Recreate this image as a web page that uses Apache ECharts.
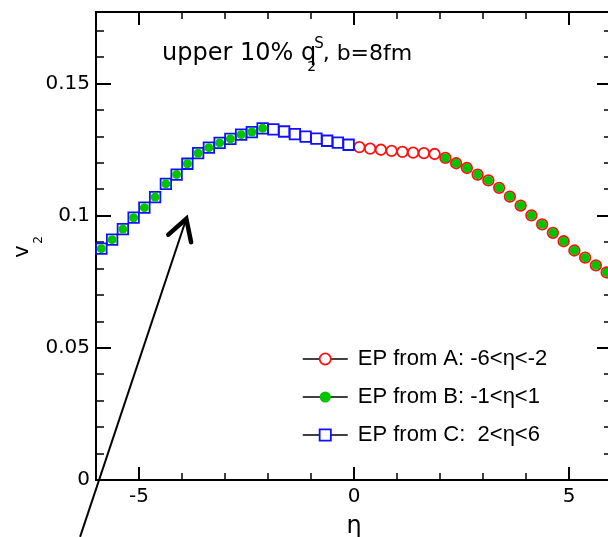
<!DOCTYPE html>
<html><head><meta charset="utf-8">
<script src="https://cdn.jsdelivr.net/npm/echarts@6/dist/echarts.min.js"></script>
<style>html,body{margin:0;padding:0;background:#fff}#c{width:608px;height:537px}</style>
</head><body><div id="c"></div>
<script>
// ---- data ----
const seriesNames = ['EP from A: -6<η<-2', 'EP from B: -1<η<1', 'EP from C:  2<η<6'];
const etaA = [0.125,0.375,0.625,0.875,1.125,1.375,1.625,1.875,2.125,2.375,2.625,2.875,3.125,3.375,3.625,3.875,4.125,4.375,4.625,4.875,5.125,5.375,5.625,5.875];
const v2A  = [0.1259,0.1253,0.1249,0.1245,0.1241,0.1238,0.1236,0.1233,0.1218,0.1198,0.1180,0.1155,0.1133,0.1105,0.1072,0.1038,0.1001,0.0967,0.0935,0.0903,0.0868,0.0841,0.0812,0.0785];
const etaB = [-5.875,-5.625,-5.375,-5.125,-4.875,-4.625,-4.375,-4.125,-3.875,-3.625,-3.375,-3.125,-2.875,-2.625,-2.375,-2.125,
              2.125,2.375,2.625,2.875,3.125,3.375,3.625,3.875,4.125,4.375,4.625,4.875,5.125,5.375,5.625,5.875];
const v2B  = [0.0875,0.0909,0.0949,0.0992,0.1030,0.1070,0.1120,0.1155,0.1196,0.1236,0.1257,0.1275,0.1290,0.1306,0.1316,0.1330,
              0.1218,0.1198,0.1180,0.1155,0.1133,0.1105,0.1072,0.1038,0.1001,0.0967,0.0935,0.0903,0.0868,0.0841,0.0812,0.0785];
const etaC = [-5.875,-5.625,-5.375,-5.125,-4.875,-4.625,-4.375,-4.125,-3.875,-3.625,-3.375,-3.125,-2.875,-2.625,-2.375,-2.125,-1.875,-1.625,-1.375,-1.125,-0.875,-0.625,-0.375,-0.125];
const v2C  = [0.0875,0.0909,0.0949,0.0992,0.1030,0.1070,0.1120,0.1155,0.1196,0.1236,0.1257,0.1275,0.1290,0.1306,0.1316,0.1330,0.1326,0.1318,0.1308,0.1299,0.1291,0.1283,0.1276,0.1268];
const xMajorTicks = [-5, 0, 5];
const yMajorTicks = [0, 0.05, 0.1, 0.15];
const xRange = [-6, 6];
const yRange = [0, 0.177];
const arrowFrom = [-6.37, -0.0215];
const arrowTo = [-3.9, 0.0988];
const titleMain = 'upper 10% q', titleSup = 'S', titleSub = '2', titleRest = ', b=8fm';
const yName = 'v', yNameSub = '2', xName = 'η';

// ---- styling ----
const TICKFONT = '"DejaVu Sans", sans-serif';
const LEGFONT = '"Liberation Sans", Arial, sans-serif';
const RED = '#ff1010', GREEN = '#00c400', BLUE = '#1010ff';

function pts(xs, ys) { return xs.map((x, i) => [x, ys[i]]); }

function axisPair(pos, range, minorInt, majorVals, majorLen, minorLen, withLabels, extra) {
  const base = { type: 'value', position: pos, min: range[0], max: range[1], splitLine: { show: false } };
  const minor = Object.assign({}, base, {
    interval: minorInt,
    axisLine: { show: true, onZero: false, lineStyle: { color: '#000', width: 2 } },
    axisTick: { show: true, inside: true, length: minorLen, lineStyle: { color: '#000', width: 1.5 } },
    axisLabel: withLabels ? Object.assign({ show: true, customValues: majorVals, color: '#000',
      fontFamily: TICKFONT, fontSize: 20 }, withLabels) : { show: false }
  }, extra || {});
  const major = Object.assign({}, base, {
    interval: minorInt,
    axisLine: { show: false, onZero: false },
    axisTick: { show: true, inside: true, length: majorLen, customValues: majorVals, lineStyle: { color: '#000', width: 2 } },
    axisLabel: { show: false }
  });
  return [minor, major];
}

const xAxes = [].concat(
  axisPair('bottom', xRange, 1, xMajorTicks, 13, 7, { margin: 7 }, {
    name: xName, nameLocation: 'middle', nameGap: 35,
    nameTextStyle: { fontFamily: TICKFONT, fontSize: 24, color: '#000' }
  }),
  axisPair('top', xRange, 1, xMajorTicks, 13, 7, null)
);
const yAxes = [].concat(
  axisPair('left', yRange, 0.01, yMajorTicks, 15, 8, { margin: 6 }),
  axisPair('right', yRange, 0.01, yMajorTicks, 15, 8, null)
);

const hidden = { width: 0, opacity: 0 };
const option = {
  animation: false,
  backgroundColor: '#fff',
  grid: { left: 96, right: -4, top: 12, bottom: 57, containLabel: false, outerBoundsMode: 'none' },
  xAxis: xAxes,
  yAxis: yAxes,
  legend: {
    orient: 'vertical', left: 302, top: 346, padding: 0,
    itemWidth: 45, itemHeight: 14, itemGap: 12, selectedMode: false,
    textStyle: { fontFamily: LEGFONT, fontSize: 22, color: '#000', lineHeight: 26, padding: [0, 0, 0, 5] },
    lineStyle: { color: '#000', width: 1.5, opacity: 1, type: 'solid' },
    data: [
      { name: seriesNames[0], itemStyle: { color: '#fff', borderColor: RED, borderWidth: 1.8, opacity: 1 } },
      { name: seriesNames[1], itemStyle: { color: GREEN, borderColor: GREEN, borderWidth: 0, opacity: 1 } },
      { name: seriesNames[2], itemStyle: { color: '#fff', borderColor: BLUE, borderWidth: 1.8, opacity: 1 } }
    ]
  },
  series: [
    { name: seriesNames[0], type: 'line', data: pts(etaA, v2A), symbol: 'circle', symbolSize: 10.5,
      showSymbol: true, showAllSymbol: true, lineStyle: hidden, z: 3,
      itemStyle: { color: 'rgba(255,255,255,0)', borderColor: RED, borderWidth: 1.8 } },
    { name: seriesNames[1], type: 'line', data: pts(etaB, v2B), symbol: 'circle', symbolSize: 9,
      showSymbol: true, showAllSymbol: true, lineStyle: hidden, z: 5,
      itemStyle: { color: GREEN, borderWidth: 0 } },
    { name: seriesNames[2], type: 'line', data: pts(etaC, v2C), symbol: 'rect', symbolSize: 10.5,
      showSymbol: true, showAllSymbol: true, lineStyle: hidden, z: 4,
      itemStyle: { color: 'rgba(255,255,255,0)', borderColor: BLUE, borderWidth: 1.8 } }
  ]
};

const chart = echarts.init(document.getElementById('c'), null, { renderer: 'canvas' });
chart.setOption(option);

// ---- annotations: title with stacked sub/superscript, y-axis name, and the arrow ----
const mctx = document.createElement('canvas').getContext('2d');
function tw(t, f) { mctx.font = f; return mctx.measureText(t).width; }
const fMain = '24px "DejaVu Sans"', fRest = '22px "DejaVu Sans"', fSup = '15px "DejaVu Sans"', fSub = '14px "DejaVu Sans"';
const tx0 = 162, tyMid = 53.5;
const wMain = tw(titleMain, fMain);
const xSup = tx0 + wMain - 2;
const xRest = xSup + tw(titleSup, fSup) - 1;

const p0 = chart.convertToPixel({ seriesIndex: 0 }, arrowFrom);
const p1 = chart.convertToPixel({ seriesIndex: 0 }, arrowTo);
const dx = p0[0] - p1[0], dy = p0[1] - p1[1];
const L = Math.hypot(dx, dy), ux = dx / L, uy = dy / L;
const ang = 30 * Math.PI / 180, armLen = 24;
function rot(a) { return [p1[0] + armLen * (ux * Math.cos(a) - uy * Math.sin(a)), p1[1] + armLen * (ux * Math.sin(a) + uy * Math.cos(a))]; }

chart.setOption({
  graphic: [
    { type: 'text', x: tx0, y: tyMid, style: { text: titleMain, font: fMain, fill: '#000', verticalAlign: 'middle' } },
    { type: 'text', x: xSup, y: 44.5, style: { text: titleSup, font: fSup, fill: '#000', verticalAlign: 'middle' } },
    { type: 'text', x: xSup - 7, y: 67, style: { text: titleSub, font: fSub, fill: '#000', verticalAlign: 'middle' } },
    { type: 'text', x: xRest, y: tyMid + 1, style: { text: titleRest, font: fRest, fill: '#000', verticalAlign: 'middle' } },
    { type: 'text', x: 22.5, y: 251.5, rotation: Math.PI / 2,
      style: { text: yName, font: '21px "DejaVu Sans"', fill: '#000', align: 'center', verticalAlign: 'middle' } },
    { type: 'text', x: 38.5, y: 240, rotation: Math.PI / 2,
      style: { text: yNameSub, font: '12px "DejaVu Sans"', fill: '#000', align: 'center', verticalAlign: 'middle' } },
    { type: 'line', shape: { x1: p0[0], y1: p0[1], x2: p1[0], y2: p1[1] }, style: { stroke: '#000', lineWidth: 2 }, z: 10 },
    { type: 'polyline', shape: { points: [rot(ang), p1, rot(-ang)] },
      style: { stroke: '#000', lineWidth: 4.5, fill: null, lineJoin: 'miter', lineCap: 'round' }, z: 10 }
  ]
});
</script>
</body></html>
